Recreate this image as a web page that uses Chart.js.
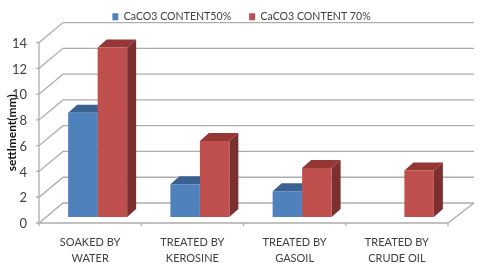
<!DOCTYPE html>
<html>
<head>
<meta charset="utf-8">
<script src="https://cdn.jsdelivr.net/npm/chart.js@4"></script>
<style>
html, body { margin: 0; padding: 0; background: #fff; }
#wrap { width: 480px; height: 274px; }
canvas { filter: blur(0.45px); }
</style>
</head>
<body>
<div id="wrap"><canvas id="myChart"></canvas></div>
<script>
const categories = [['SOAKED BY', 'WATER'], ['TREATED BY', 'KEROSINE'], ['TREATED BY', 'GASOIL'], ['TREATED BY', 'CRUDE OIL']];
const content50 = [8.1, 2.55, 2.0, null];
const content70 = [13.15, 5.9, 3.8, 3.6];
const seriesNames = ['CaCO3 CONTENT50%', 'CaCO3 CONTENT 70%'];

// fake 3D offsets, px
const wallX = 24, wallY = 20;
const barShiftX = 7.5, barShiftY = 6;
const sideX = 9, sideY = 8;
const lineColor = '#adadad';
const sideColors = ['#3a6190', '#7b2f2e'];
const topColors = ['#3a6190', '#953735'];

function drawBarFaces(chart, i) {
    const ctx = chart.ctx;
    chart.getDatasetMeta(i).data.forEach((bar, n) => {
        if (chart.data.datasets[i].data[n] === null) return;
        const p = bar.getProps(['x', 'y', 'base', 'width']);
        const l = p.x - p.width / 2, r = p.x + p.width / 2;
        ctx.fillStyle = topColors[i];
        ctx.beginPath();
        ctx.moveTo(l, p.y);
        ctx.lineTo(l + sideX, p.y - sideY);
        ctx.lineTo(r + sideX, p.y - sideY);
        ctx.lineTo(r, p.y);
        ctx.closePath();
        ctx.fill();
        ctx.fillStyle = sideColors[i];
        ctx.beginPath();
        ctx.moveTo(r, p.y);
        ctx.lineTo(r + sideX, p.y - sideY);
        ctx.lineTo(r + sideX, p.base - sideY);
        ctx.lineTo(r, p.base);
        ctx.closePath();
        ctx.fill();
    });
}

const wallPlugin = {
    id: 'wall',
    afterLayout(chart) {
        // legend is centred on the whole canvas and sits closer to the top
        chart.legend.left += 17.5;
        chart.legend.right += 17.5;
        chart.legend.top = -6.5;
    },
    beforeDatasetsDraw(chart) {
        const ctx = chart.ctx;
        const x = chart.scales.x, y = chart.scales.y;
        const left = x.left, right = x.right;
        ctx.save();
        ctx.strokeStyle = lineColor;
        ctx.lineWidth = 1.3;
        ctx.beginPath();
        y.ticks.forEach(t => {
            const py = y.getPixelForValue(t.value);
            ctx.moveTo(left - 3, py);
            ctx.lineTo(left, py);
            ctx.lineTo(left + wallX, py - wallY);
            ctx.lineTo(right + wallX + 2, py - wallY);
        });
        // front axis lines and floor edge
        const y0 = y.getPixelForValue(0);
        ctx.moveTo(left, y.getPixelForValue(14));
        ctx.lineTo(left, y0);
        ctx.lineTo(right, y0);
        ctx.lineTo(right + wallX + 2, y0 - wallY);
        categories.forEach((c, i) => {
            const px = left + (right - left) * i / categories.length;
            ctx.moveTo(px, y0);
            ctx.lineTo(px, y0 + 3);
        });
        ctx.moveTo(right, y0);
        ctx.lineTo(right, y0 + 3);
        ctx.stroke();
        ctx.restore();
        ctx.save();
        ctx.translate(barShiftX, -barShiftY);
        // library draws the fronts afterwards, so red front hides the blue side
        drawBarFaces(chart, 0);
        drawBarFaces(chart, 1);
    },
    afterDatasetsDraw(chart) {
        chart.ctx.restore();
    }
};

const config = {
    type: 'bar',
    data: {
        labels: categories,
        datasets: [{
            label: seriesNames[0],
            data: content50,
            backgroundColor: '#4f81bd',
            clip: false
        }, {
            label: seriesNames[1],
            data: content70,
            backgroundColor: '#c0504d',
            clip: false
        }]
    },
    options: {
        responsive: true,
        maintainAspectRatio: false,
        animation: false,
        categoryPercentage: 0.577,
        barPercentage: 1,
        layout: { padding: { top: 4, right: 32, bottom: 0, left: 0 } },
        plugins: {
            tooltip: { enabled: false },
            legend: {
                position: 'top',
                labels: {
                    boxWidth: 6,
                    boxHeight: 7,
                    padding: 18,
                    color: '#404040',
                    font: { family: 'Lato', size: 10.6 }
                }
            }
        },
        scales: {
            x: {
                grid: { display: false },
                border: { display: false },
                ticks: {
                    autoSkip: false,
                    maxRotation: 0,
                    padding: 3,
                    color: '#404040',
                    font: { family: 'Lato', size: 11, lineHeight: 1.5 }
                },
                afterFit(scale) { scale.height = 51; }
            },
            y: {
                min: 0,
                max: 14,
                grid: { display: false },
                border: { display: false },
                ticks: {
                    stepSize: 2,
                    padding: 4,
                    labelOffset: 1,
                    color: '#404040',
                    font: { family: 'Lato', size: 13 }
                },
                title: {
                    display: true,
                    text: 'settlment(mm)',
                    color: '#111',
                    padding: { top: 5, bottom: 0 },
                    font: { family: 'Lato', size: 12, weight: 'bold' }
                },
                afterFit(scale) { scale.width = 39; }
            }
        }
    },
    plugins: [wallPlugin]
};

new Chart(document.getElementById('myChart'), config);
</script>
</body>
</html>
